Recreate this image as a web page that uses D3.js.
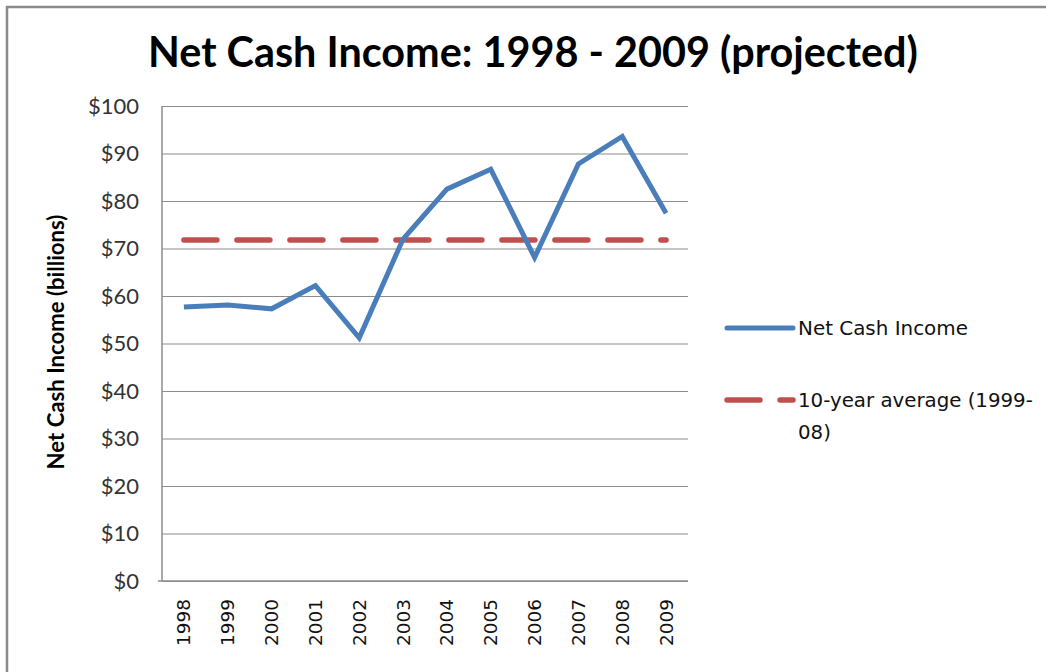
<!DOCTYPE html>
<html>
<head>
<meta charset="utf-8">
<script src="https://cdn.jsdelivr.net/npm/d3@7"></script>
<style>
  body { margin: 0; background: #fff; }
  svg { display: block; }
</style>
</head>
<body>
<svg id="chart" width="1046" height="672"></svg>
<script>
// values (billions of dollars)
var years = ["1998", "1999", "2000", "2001", "2002", "2003", "2004", "2005", "2006", "2007", "2008", "2009"];
var netCash = [57.7, 58.1, 57.3, 62.2, 51.2, 72.0, 82.5, 86.7, 68.1, 87.8, 93.6, 77.4];
var average = [71.8, 71.8, 71.8, 71.8, 71.8, 71.8, 71.8, 71.8, 71.8, 71.8, 71.8, 71.8];
var yTicks = [0, 10, 20, 30, 40, 50, 60, 70, 80, 90, 100];
var seriesNames = ["Net Cash Income", "10-year average (1999-", "08)"];

var svg = d3.select("#chart");

// plot area
var margins = { top: 106, bottom: 91, left: 162, right: 358 };
var width = 1046, height = 672;

var xscale = d3.scaleBand()
    .domain(years)
    .range([margins.left, width - margins.right]);

var yscale = d3.scaleLinear()
    .domain([0, 100])
    .range([height - margins.bottom, margins.top]);

// shrink/grow a text so it takes a given width
function fit(sel, target) {
    sel.each(function() {
        var fs = parseFloat(d3.select(this).style("font-size"));
        var w = this.getComputedTextLength();
        d3.select(this).style("font-size", (fs * target / w) + "px");
    });
}

// outer frame (only top and left edges visible)
svg.append("path")
    .attr("d", "M7,672 V7 H1046")
    .attr("fill", "none")
    .attr("stroke", "#8a8a8a")
    .attr("stroke-width", 2.5);

// title
var title = svg.append("text")
    .attr("x", 533)
    .attr("y", 67)
    .attr("text-anchor", "middle")
    .style("font-family", "Lato, 'Open Sans', sans-serif")
    .style("font-weight", "bold")
    .style("font-size", "38px")
    .attr("fill", "#000")
    .text("Net Cash Income: 1998 - 2009 (projected)");
fit(title, 770);

// gridlines
var y_axis = d3.axisLeft(yscale)
    .tickValues(yTicks)
    .tickSize(-(width - margins.left - margins.right))
    .tickPadding(23)
    .tickFormat(function(d) { return "$" + d; });

var gy = svg.append("g")
    .attr("class", "y_axis")
    .attr("transform", "translate(" + margins.left + ",0)")
    .call(y_axis);
gy.select(".domain").remove();
gy.selectAll(".tick line")
    .attr("stroke", "#8c8c8c")
    .attr("stroke-width", 1.2);
gy.selectAll(".tick text")
    .attr("fill", "#333")
    .style("font-family", "Lato, 'Open Sans', sans-serif")
    .style("font-size", "20px");
var fs100 = gy.selectAll(".tick text").filter(function(d) { return d === 100; });
fit(fs100, 51);
gy.selectAll(".tick text").style("font-size", fs100.style("font-size"));

// axis lines
svg.append("line")
    .attr("x1", margins.left).attr("x2", margins.left)
    .attr("y1", yscale(100)).attr("y2", yscale(0))
    .attr("stroke", "#8c8c8c").attr("stroke-width", 1.5);
svg.append("line")
    .attr("x1", margins.left - 4).attr("x2", width - margins.right)
    .attr("y1", yscale(0)).attr("y2", yscale(0))
    .attr("stroke", "#8c8c8c").attr("stroke-width", 1.5);

// x labels, rotated
var x_axis = d3.axisBottom(xscale).tickSize(0).tickPadding(0);
var gx = svg.append("g")
    .attr("class", "x_axis")
    .attr("transform", "translate(0," + yscale(0) + ")")
    .call(x_axis);
gx.select(".domain").remove();
gx.selectAll(".tick text")
    .attr("transform", "rotate(-90)")
    .attr("x", -18)
    .attr("y", 0)
    .attr("dy", "0.35em")
    .attr("text-anchor", "end")
    .attr("fill", "#111")
    .style("font-family", "'DejaVu Sans', Verdana, sans-serif")
    .style("font-size", "17px");
fit(gx.selectAll(".tick text"), 47);

// y axis title
var ytitle = svg.append("text")
    .attr("transform", "translate(64,342) rotate(-90)")
    .attr("text-anchor", "middle")
    .style("font-family", "Lato, 'Open Sans', sans-serif")
    .style("font-weight", "bold")
    .style("font-size", "18px")
    .attr("fill", "#000")
    .text("Net Cash Income (billions)");
fit(ytitle, 255);

var line = d3.line()
    .x(function(d, i) { return xscale(years[i]) + xscale.bandwidth() / 2; })
    .y(function(d) { return yscale(d); });

// average line
svg.append("path")
    .datum(average)
    .attr("d", line)
    .attr("fill", "none")
    .attr("stroke", "#c0504d")
    .attr("stroke-width", 5.5)
    .attr("stroke-linecap", "round")
    .attr("stroke-dasharray", "33 20");

// net cash income line
svg.append("path")
    .datum(netCash)
    .attr("d", line)
    .attr("fill", "none")
    .attr("stroke", "#4a7ebb")
    .attr("stroke-width", 5)
    .attr("stroke-linejoin", "miter")
    .attr("stroke-linecap", "butt");

// legend
var lg = svg.append("g").attr("class", "legend");
lg.append("line")
    .attr("x1", 727).attr("x2", 793)
    .attr("y1", 328).attr("y2", 328)
    .attr("stroke", "#4a7ebb")
    .attr("stroke-width", 5)
    .attr("stroke-linecap", "round");
lg.append("line")
    .attr("x1", 727).attr("x2", 793)
    .attr("y1", 400).attr("y2", 400)
    .attr("stroke", "#c0504d")
    .attr("stroke-width", 5.5)
    .attr("stroke-linecap", "round")
    .attr("stroke-dasharray", "33 20");

var legendText = lg.selectAll("text.lt")
    .data(seriesNames)
    .enter().append("text")
    .attr("class", "lt")
    .attr("x", 798)
    .attr("y", function(d, i) { return [335, 407, 439][i]; })
    .attr("fill", "#111")
    .style("font-family", "'DejaVu Sans', Verdana, sans-serif")
    .style("font-size", "17px")
    .text(function(d) { return d; });
fit(legendText.filter(function(d, i) { return i === 0; }), 170);
fit(legendText.filter(function(d, i) { return i === 1; }), 235);
legendText.filter(function(d, i) { return i === 2; })
    .style("font-size", legendText.filter(function(d, i) { return i === 1; }).style("font-size"));
</script>
</body>
</html>
